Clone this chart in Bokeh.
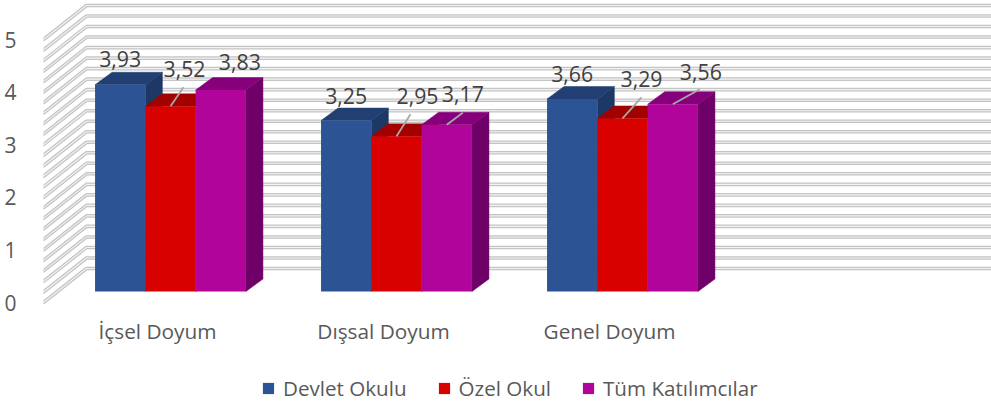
from bokeh.plotting import figure
from bokeh.embed import file_html
from bokeh.resources import INLINE
from bokeh.models import Range1d, FixedTicker, Legend, LegendItem, ColumnDataSource
from bokeh.core.properties import value

categories = ["İçsel Doyum", "Dışsal Doyum", "Genel Doyum"]
series_names = ["Devlet Okulu", "Özel Okul", "Tüm Katılımcılar"]
devlet = [3.93, 3.25, 3.66]
ozel = [3.52, 2.95, 3.29]
tum = [3.83, 3.17, 3.56]
y_ticks = [0, 1, 2, 3, 4, 5]
grid_values = [i / 5 for i in range(26)]

front_colors = ["#2c5494", "#d90000", "#b0049a"]
top_colors = ["#213f72", "#a30000", "#86007c"]
side_colors = ["#1e3866", "#a30000", "#6e0068"]
TEXT = "#404040"
AXIS_TEXT = "#595959"
FONT = "Open Sans"

W, H = 991, 403
L = 43
PX_X, PX_Y = 226.0, 52.6
Y0_PX, X0_PX = 302.0, 157.0

x_range = Range1d((L - X0_PX) / PX_X, (W - X0_PX) / PX_X)
y_range = Range1d((Y0_PX - H) / PX_Y, Y0_PX / PX_Y)

p = figure(width=W, height=H, x_range=x_range, y_range=y_range,
           output_backend="svg", toolbar_location=None,
           min_border_left=L, min_border_right=0, min_border_top=0, min_border_bottom=0,
           outline_line_color=None, background_fill_color="white", border_fill_color="white")
p.xgrid.visible = False
p.ygrid.visible = False

# axes
p.yaxis.ticker = FixedTicker(ticks=y_ticks)
p.yaxis.axis_line_color = None
p.yaxis.major_tick_line_color = None
p.yaxis.minor_tick_line_color = None
p.yaxis.major_label_standoff = 21
p.yaxis.major_label_text_font = FONT
p.yaxis.major_label_text_font_size = "21px"
p.yaxis.major_label_text_color = AXIS_TEXT

p.xaxis.ticker = FixedTicker(ticks=list(range(len(categories))))
p.xaxis.major_label_overrides = {i: c for i, c in enumerate(categories)}
p.xaxis.fixed_location = (Y0_PX - 307) / PX_Y
p.xaxis.axis_line_color = None
p.xaxis.major_tick_line_color = None
p.xaxis.minor_tick_line_color = None
p.xaxis.major_label_standoff = 3
p.xaxis.major_label_text_font = FONT
p.xaxis.major_label_text_font_size = "20.8px"
p.xaxis.major_label_text_color = AXIS_TEXT

# walls
wall_dx, wall_dy = 43 / PX_X, 34 / PX_Y
x_front = x_range.start
x_right = x_range.end
xs = [[x_front, x_front + wall_dx, x_right] for _ in grid_values]
ys = [[v, v + wall_dy, v + wall_dy] for v in grid_values]
p.multi_line(xs, ys, line_color="#c4c4c4", line_width=3.6, line_join="round", line_cap="round")
p.multi_line(xs, ys, line_color="#f2f2f2", line_width=1.1, line_join="round", line_cap="round")

# bars
bar_w = 50.3 / PX_X
front_shift = 13 / PX_X
lift = (Y0_PX - 291) / PX_Y
dep_x, dep_y = 17 / PX_X, 12.5 / PX_Y
series = [devlet, ozel, tum]
legend_items = []
for s, vals in enumerate(series):
    centers = [i + front_shift + (s - 1) * bar_w for i in range(len(vals))]
    lefts = [c - bar_w / 2 for c in centers]
    rights = [c + bar_w / 2 for c in centers]
    tops = [v + lift for v in vals]
    p.patches([[r, r + dep_x, r + dep_x, r] for r in rights],
              [[lift, lift + dep_y, t + dep_y, t] for t in tops],
              fill_color=side_colors[s], line_color=side_colors[s], line_width=0.5)
    p.patches([[a, a + dep_x, b + dep_x, b] for a, b in zip(lefts, rights)],
              [[t, t + dep_y, t + dep_y, t] for t in tops],
              fill_color=top_colors[s], line_color=top_colors[s], line_width=0.5)
    r = p.vbar(x=centers, width=bar_w, bottom=lift, top=tops,
               fill_color=front_colors[s], line_color=None)
    legend_items.append(LegendItem(label=series_names[s], renderers=[r]))

# data labels: pixel offsets from the centre of each bar's front top edge
label_dx = [[0, 14, 19], [0, 21, 16], [0, 19, 28]]
label_dy = [[26, 37, 28], [25, 40, 31], [25, 39, 32]]
leader_end = [[None, (13, 19), None], [None, (14, 22), (16, 12)], [None, (19, 21), (27, 15)]]

lx, ly, ldx, ldy, ltxt = [], [], [], [], []
seg = ([], [], [], [])
for g in range(len(categories)):
    for s, vals in enumerate(series):
        cx = g + front_shift + (s - 1) * bar_w
        top = vals[g] + lift
        lx.append(cx)
        ly.append(top)
        ldx.append(label_dx[g][s])
        ldy.append(-label_dy[g][s])
        ltxt.append(f"{vals[g]:.2f}".replace(".", ","))
        e = leader_end[g][s]
        if e:
            seg[0].append(cx)
            seg[1].append(top)
            seg[2].append(cx + e[0] / PX_X)
            seg[3].append(top + e[1] / PX_Y)

p.segment(seg[0], seg[1], seg[2], seg[3], line_color="#a8a8a8", line_width=1.8)
src = ColumnDataSource(dict(x=lx, y=ly, dx=ldx, dy=ldy, t=ltxt))
p.text("x", "y", text="t", source=src, x_offset="dx", y_offset="dy",
       text_align="center", text_baseline="middle",
       text_font=value(FONT), text_font_size="21.3px", text_color=TEXT)

legend = Legend(items=legend_items, orientation="horizontal", location=(218, 1),
                border_line_color=None, background_fill_alpha=0,
                label_text_font=FONT, label_text_font_size="20.6px", label_text_color=AXIS_TEXT,
                glyph_width=14, glyph_height=14, label_standoff=8, spacing=30,
                padding=4, margin=0, label_height=14)
p.add_layout(legend, "center")

open("out.html", "w").write(file_html(p, INLINE))
